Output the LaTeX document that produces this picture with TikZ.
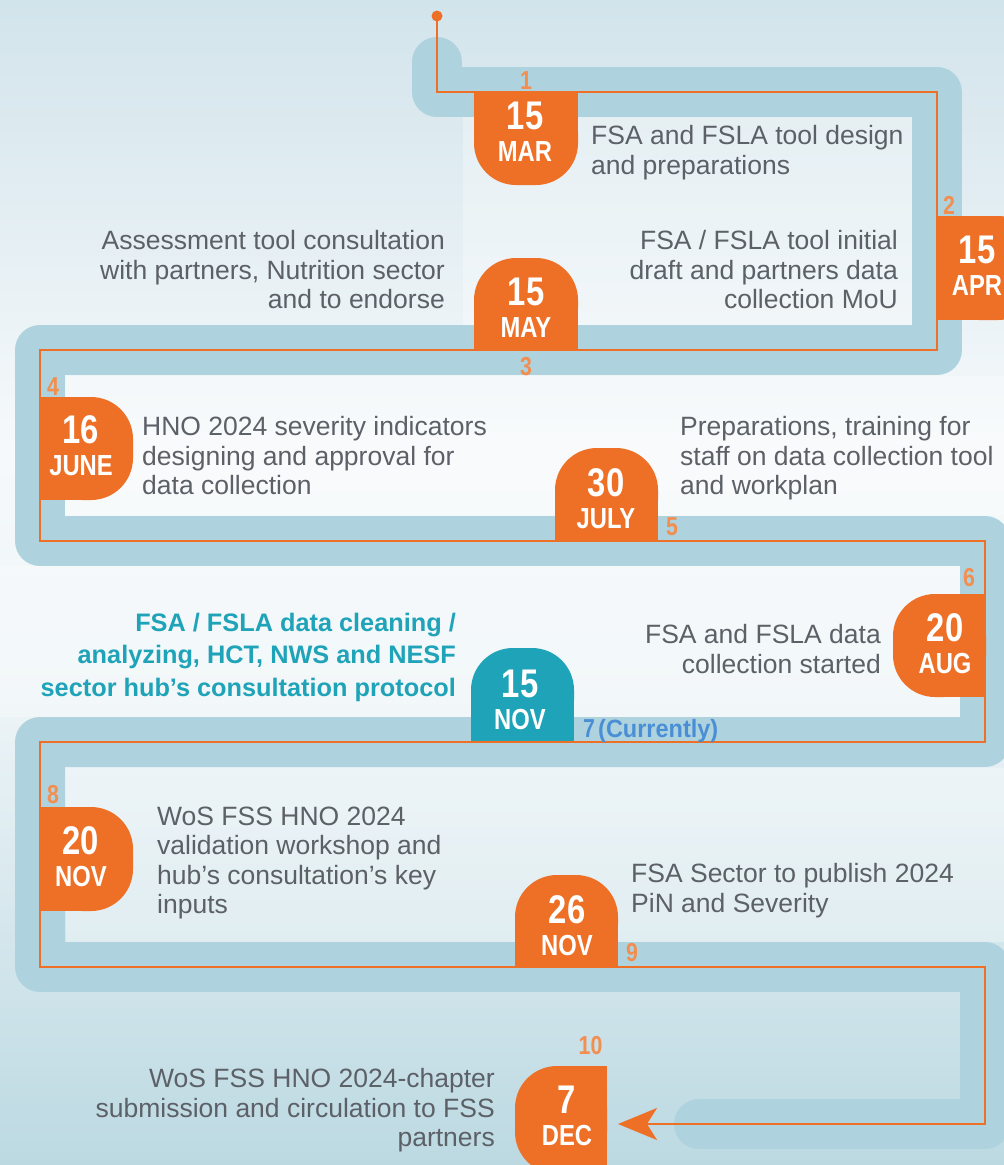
\documentclass[tikz,border=0pt]{standalone}
\usepackage{fontspec}
\setmainfont{Liberation Sans}
\newfontfamily\narrowfont[FakeStretch=0.82]{Liberation Sans}
\usetikzlibrary{arrows.meta}
\definecolor{roadblue}{HTML}{AED3DE}
\definecolor{tabor}{HTML}{EE7026}
\definecolor{numor}{HTML}{F28E50}
\definecolor{tabteal}{HTML}{1FA3B8}
\definecolor{nowblue}{HTML}{4A8FD6}
\definecolor{txtgrey}{HTML}{5C6067}
\definecolor{bgtop}{HTML}{D2E4EB}
\definecolor{bgmid}{HTML}{F6F9FB}
\definecolor{bglow}{HTML}{EDF4F7}
\definecolor{bgbot}{HTML}{BCD9E2}

\begin{document}
\begin{tikzpicture}[x=1pt,y=-1pt,
	desc/.style={inner sep=0pt, text=txtgrey, font=\fontsize{26.5}{29.5}\selectfont},
	daytxt/.style={inner sep=0pt, text=white, font=\narrowfont\bfseries\fontsize{40}{40}\selectfont},
	montxt/.style={inner sep=0pt, text=white, font=\narrowfont\bfseries\fontsize{29}{29}\selectfont},
	stepno/.style={inner sep=0pt, text=numor, font=\narrowfont\bfseries\fontsize{26}{26}\selectfont},
	inner/.style={white, opacity=0.3}]
	\useasboundingbox (0,0) rectangle (1004,1165);
	\shade[top color=bgtop, bottom color=bgmid] (0,0) rectangle (1004,450);
	\shade[top color=bgmid, bottom color=bglow] (0,449) rectangle (1004,700);
	\shade[top color=bglow, bottom color=bgbot] (0,699) rectangle (1004,1165);
	\fill[inner] (463,117) rectangle (912,325);
	\fill[inner] (66,376) rectangle (1004,515);
	\fill[inner] (0,566) rectangle (960,717);
	\fill[inner] (66,768) rectangle (1004,942);
	\draw [line width=50pt, roadblue, line join=round, line cap=round] (437,62) -- (437,92) -- (937,92) -- (937,350) -- (40,350) -- (40,541) -- (985,541) -- (985,742) -- (40,742) -- (40,967) -- (985,967) -- (985,1124) -- (699,1124);
	% tabs
	\fill[tabor, rounded corners=42] (474,91) rectangle (578,185);
	\fill[tabor] (474,91) rectangle (578,140);
	\fill[tabor, rounded corners=42] (937,216) rectangle (1040,320);
	\fill[tabor] (937,216) rectangle (990,320);
	\fill[tabor, rounded corners=42] (474,258) rectangle (578,350);
	\fill[tabor] (474,304) rectangle (578,350);
	\fill[tabor, rounded corners=42] (40,397) rectangle (133,500);
	\fill[tabor] (40,397) rectangle (86,500);
	\fill[tabor, rounded corners=42] (555,448) rectangle (658,541);
	\fill[tabor] (555,494) rectangle (658,541);
	\fill[tabor, rounded corners=42] (893,594) rectangle (986,697);
	\fill[tabor] (940,594) rectangle (986,697);
	\fill[tabteal, rounded corners=42] (471,648) rectangle (574,742);
	\fill[tabteal] (471,695) rectangle (574,742);
	\fill[tabor, rounded corners=42] (40,807) rectangle (133,911);
	\fill[tabor] (40,807) rectangle (86,911);
	\fill[tabor, rounded corners=42] (515,875) rectangle (618,967);
	\fill[tabor] (515,921) rectangle (618,967);
	\fill[tabor, rounded corners=42] (515,1066) rectangle (607,1174);
	\fill[tabor] (561,1066) rectangle (607,1174);
	% path line
	\node[circle, fill=tabor, inner sep=0pt, minimum size=11pt] (start) at (437,16) {};
	\coordinate (tip) at (618,1124);
	\draw [tabor, line width=2pt, -{Stealth[length=39pt, width=32pt, inset=10pt]}] (start.center) -- (437,92) -- (937,92) -- (937,350) -- (40,350) -- (40,541) -- (985,541) -- (985,742) -- (40,742) -- (40,967) -- (985,967) -- (985,1124) -- (tip);
	% dates
	\foreach \x/\y/\d/\m [count=\i] in {525/116/15/MAR, 977/250/15/APR, 526/292/15/MAY, 81/430/16/JUNE, 606/483/30/JULY, 945/628/20/AUG, 520/684/15/NOV, 81/841/20/NOV, 567/910/26/NOV, 567/1100/7/DEC}
	{
		\node[daytxt] (day\i) at (\x,\y) {\d};
		\node[montxt] (mon\i) at (\x,\y+36) {\m};
	}
	% step numbers
	\foreach \x/\y/\n in {526/80.5/1, 949/205/2, 526/367/3, 53/386.5/4, 672/527/5, 969/577.5/6, 53/795/8, 632/953/9, 590.5/1045.5/10}
		\node[stepno] (no\n) at (\x,\y) {\n};
	\node[anchor=base west, inner sep=0pt, text=nowblue, font=\narrowfont\bfseries\fontsize{26}{26}\selectfont] (no7) at (583,737) {7};
	\node[anchor=base west, inner sep=0pt, text=nowblue, font=\bfseries\fontsize{25}{25}\selectfont, xscale=0.94] (now) at (598,737) {(Currently)};
	% descriptions
	\node[desc, anchor=north west, align=left] (t1) at (591,125.5) {FSA and FSLA tool design\\and preparations};
	\node[desc, anchor=north east, align=right] (t2) at (898,230.5) {FSA / FSLA tool initial\\draft and partners data\\collection MoU};
	\node[desc, anchor=north east, align=right] (t3) at (445,230.5) {Assessment tool consultation\\with partners, Nutrition sector\\and to endorse};
	\node[desc, anchor=north west, align=left] (t4) at (142,416.5) {HNO 2024 severity indicators\\designing and approval for\\data collection};
	\node[desc, anchor=north west, align=left] (t5) at (680,416.5) {Preparations, training for\\staff on data collection tool\\and workplan};
	\node[desc, anchor=north east, align=right] (t6) at (881,624.5) {FSA and FSLA data\\collection started};
	\node[anchor=north east, align=right, inner sep=0pt, text=tabteal, font=\bfseries\fontsize{25.3}{32.5}\selectfont] (t7) at (456,612.5) {FSA / FSLA data cleaning /\\analyzing, HCT, NWS and NESF\\sector hub’s consultation protocol};
	\node[desc, anchor=north west, align=left] (t8) at (157,806.5) {WoS FSS HNO 2024\\validation workshop and\\hub’s consultation’s key\\inputs};
	\node[desc, anchor=north west, align=left] (t9) at (631,863.5) {FSA Sector to publish 2024\\PiN and Severity};
	\node[desc, anchor=north east, align=right] (t10) at (495,1068.5) {WoS FSS HNO 2024-chapter\\submission and circulation to FSS\\partners};
\end{tikzpicture}
\end{document}
